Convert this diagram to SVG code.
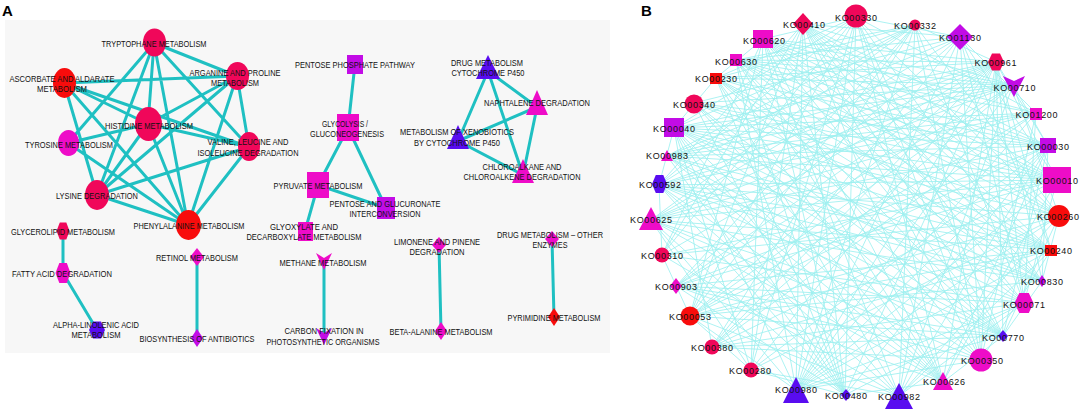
<svg xmlns="http://www.w3.org/2000/svg" width="1084" height="418" viewBox="0 0 1084 418">
<style>
.ea{stroke:#1fc0c2;stroke-width:3;fill:none;stroke-linecap:round}
.eb{stroke:#9ef0f0;stroke-width:1;fill:none;opacity:0.85}
.cr{fill:#f0075a}
.rd{fill:#f80c0c}
.mg{fill:#ee0cc8}
.pu{fill:#c20ce6}
.bv{fill:#590cf0}
.la{font-family:"Liberation Sans",Arial,sans-serif;font-size:9px;fill:#111;text-anchor:middle}
.lb{font-family:"Liberation Sans",Arial,sans-serif;font-size:9px;fill:#111;text-anchor:middle}
.pl{font-family:"Liberation Sans",Arial,sans-serif;font-size:15px;font-weight:bold;fill:#000}
</style>
<rect width="1084" height="418" fill="#fff"/>
<rect x="5" y="20" width="605" height="333" fill="#f7f7f7"/>
<text class="pl" x="2" y="16">A</text>
<text class="pl" x="641" y="16">B</text>

<g id="connectors-a">
<path class="ea" d="M154 43L237 76M64 83L237 76M154 43L249 147M154 43L148 124M154 43L97 195M154 43L68 143M154 43L188 225M64 83L148 124M64 83L249 147M64 83L97 195M64 83L188 225M237 76L148 124M237 76L249 147M237 76L97 195M237 76L188 225M148 124L68 143M148 124L249 147M148 124L97 195M148 124L188 225M68 143L188 225M249 147L97 195M249 147L188 225M97 195L188 225"/>
<path class="ea" d="M63 231L63 273M63 273L97 330M197 257L197 338M355 64L348 128M348 128L318 185M348 128L386 208M318 185L386 208M318 185L305 231M324 261L324 335M439 245L441 331M552 239L554 317"/>
<path class="ea" d="M488 71L537 107M488 71L458 141M488 71L523 175M537 107L458 141M537 107L523 175M458 141L523 175"/>
</g>

<g id="connectors-b">
<path class="eb" d="M856 17L1036 113M856 17L1059 216M856 17L1042 281M856 17L1003 336M856 17L981 360M856 17L943 382M856 17L845 395M856 17L796 390M856 17L751 370M856 17L690 316M856 17L662 255M856 17L659 185M856 17L674 128M856 17L716 78"/>
<path class="eb" d="M960 37L1036 113M960 37L1057 180M960 37L1051 250M960 37L1024 303M960 37L981 360M960 37L899 396M960 37L796 390M960 37L712 347M960 37L676 286M960 37L651 220M960 37L667 156M960 37L694 103M960 37L736 60M960 37L803 24"/>
<path class="eb" d="M1057 180L996 62M1057 180L1024 303M1057 180L943 382M1057 180L796 390M1057 180L712 347M1057 180L676 286M1057 180L662 255M1057 180L651 220M1057 180L659 185M1057 180L667 156M1057 180L674 128M1057 180L694 103M1057 180L716 78M1057 180L736 60M1057 180L763 39M1057 180L803 24"/>
<path class="eb" d="M1059 216L915 25M1059 216L1013 85M1059 216L1003 336M1059 216L899 396M1059 216L751 370M1059 216L690 316M1059 216L662 255M1059 216L659 185M1059 216L694 103M1059 216L736 60M1059 216L803 24"/>
<path class="eb" d="M981 360L915 25M981 360L996 62M981 360L1036 113M981 360L1051 250M981 360L796 390M981 360L712 347M981 360L676 286M981 360L651 220M981 360L667 156M981 360L694 103M981 360L736 60M981 360L803 24"/>
<path class="eb" d="M899 396L915 25M899 396L1013 85M899 396L1048 146M899 396L1051 250M899 396L1024 303M899 396L751 370M899 396L690 316M899 396L662 255M899 396L659 185M899 396L674 128M899 396L716 78M899 396L763 39"/>
<path class="eb" d="M796 390L915 25M796 390L996 62M796 390L1013 85M796 390L1036 113M796 390L1048 146M796 390L1059 216M796 390L1051 250M796 390L1024 303M796 390L1003 336M796 390L690 316M796 390L651 220M796 390L674 128M796 390L736 60M796 390L803 24"/>
<path class="eb" d="M674 128L915 25M674 128L996 62M674 128L1013 85M674 128L1036 113M674 128L1048 146M674 128L1059 216M674 128L1051 250M674 128L1042 281M674 128L1024 303M674 128L1003 336M674 128L943 382M674 128L845 395M674 128L751 370M674 128L712 347"/>
<path class="eb" d="M763 39L996 62M763 39L1013 85M763 39L1036 113M763 39L1048 146M763 39L1059 216M763 39L1051 250M763 39L1042 281M763 39L1024 303M763 39L1003 336M763 39L943 382M763 39L845 395M763 39L751 370M763 39L690 316M763 39L662 255"/>
<path class="eb" d="M803 24L1013 85M803 24L1048 146M803 24L1051 250M803 24L1042 281M803 24L1024 303M803 24L1003 336M803 24L943 382M803 24L845 395M803 24L751 370M803 24L690 316M803 24L662 255M803 24L659 185"/>
<path class="eb" d="M651 220L915 25M651 220L996 62M651 220L1013 85M651 220L1036 113M651 220L1048 146M651 220L1051 250M651 220L1042 281M651 220L1003 336M651 220L943 382M651 220L845 395M651 220L751 370"/>
<path class="eb" d="M690 316L915 25M690 316L996 62M690 316L1013 85M690 316L1036 113M690 316L1048 146M690 316L1051 250M690 316L1042 281M690 316L1003 336"/>
<path class="eb" d="M1024 303L915 25M1024 303L996 62M1024 303L1036 113M1024 303L845 395M1024 303L712 347M1024 303L676 286M1024 303L662 255M1024 303L659 185M1024 303L716 78"/>
<path class="eb" d="M996 62L1048 146M996 62L1051 250M996 62L1042 281M996 62L1003 336M996 62L943 382M996 62L845 395M996 62L751 370M996 62L712 347M996 62L676 286M996 62L662 255M996 62L659 185M996 62L667 156M996 62L716 78M996 62L736 60"/>
<path class="eb" d="M1048 146L1042 281M1048 146L1003 336M1048 146L943 382M1048 146L845 395M1048 146L751 370M1048 146L676 286M1048 146L667 156M1048 146L694 103M1048 146L716 78M1048 146L736 60"/>
<path class="eb" d="M694 103L1013 85M694 103L1051 250M694 103L1003 336M694 103L943 382M694 103L845 395M676 286L915 25M676 286L1013 85M676 286L1051 250M676 286L1003 336M676 286L943 382M676 286L845 395M712 347L915 25M712 347L1013 85M712 347L1036 113M712 347L1051 250M712 347L1003 336"/>
<path class="eb" d="M667 156L915 25M667 156L1013 85M667 156L1036 113M667 156L1051 250M667 156L1042 281M667 156L1003 336M667 156L943 382M667 156L845 395M716 78L915 25M716 78L1013 85M716 78L1051 250M716 78L1042 281M716 78L1003 336M716 78L943 382M716 78L845 395"/>
<path class="eb" d="M659 185L915 25M659 185L1013 85M659 185L1036 113M659 185L1051 250M659 185L1042 281M659 185L1003 336M659 185L943 382M659 185L845 395M736 60L915 25M736 60L1013 85M736 60L1036 113M736 60L1051 250M736 60L1042 281M736 60L1003 336M736 60L943 382M736 60L845 395"/>
<path class="eb" d="M856 17L960 37M915 25L996 62M1013 85L1048 146M1059 216L1042 281M1042 281L1003 336M1003 336L943 382M943 382L845 395M845 395L751 370M751 370L690 316M690 316L662 255M662 255L659 185M659 185L674 128M674 128L716 78M716 78L763 39M763 39L856 17"/>
</g>

<!-- Panel A nodes -->
<g id="a-tryptophane"><ellipse class="cr" cx="154.5" cy="42.5" rx="11.5" ry="14"/><text class="la" x="154" y="46.5" textLength="105" lengthAdjust="spacingAndGlyphs">TRYPTOPHANE METABOLISM</text></g>
<g id="a-ascorbate"><ellipse class="rd" cx="64.5" cy="83" rx="11.5" ry="15"/><text class="la" x="62" y="81.5" textLength="105" lengthAdjust="spacingAndGlyphs">ASCORBATE AND ALDARATE</text><text class="la" x="62" y="91.5" textLength="50" lengthAdjust="spacingAndGlyphs">METABOLISM</text></g>
<g id="a-arganine"><ellipse class="cr" cx="237.5" cy="76" rx="11.5" ry="14"/><text class="la" x="235" y="75.5" textLength="91" lengthAdjust="spacingAndGlyphs">ARGANINE AND PROLINE</text><text class="la" x="235" y="85.5" textLength="48" lengthAdjust="spacingAndGlyphs">METABOLISM</text></g>
<g id="a-histidine"><ellipse class="cr" cx="148.5" cy="124" rx="13.5" ry="17"/><text class="la" x="149" y="128.5" textLength="88" lengthAdjust="spacingAndGlyphs">HISTIDINE METABOLISM</text></g>
<g id="a-tyrosine"><ellipse class="mg" cx="68.5" cy="143" rx="10.5" ry="13"/><text class="la" x="69" y="147.5" textLength="88" lengthAdjust="spacingAndGlyphs">TYROSINE METABOLISM</text></g>
<g id="a-valine"><ellipse class="cr" cx="249" cy="146.5" rx="11" ry="14.5"/><text class="la" x="248" y="144.5" textLength="81" lengthAdjust="spacingAndGlyphs">VALINE, LEUCINE AND</text><text class="la" x="248" y="155.5" textLength="101" lengthAdjust="spacingAndGlyphs">ISOLEUCINE DEGRADATION</text></g>
<g id="a-lysine"><ellipse class="cr" cx="97" cy="195" rx="12" ry="15"/><text class="la" x="97" y="198.5" textLength="82" lengthAdjust="spacingAndGlyphs">LYSINE DEGRADATION</text></g>
<g id="a-phenylalanine"><ellipse class="rd" cx="188.5" cy="225" rx="12.5" ry="15"/><text class="la" x="189" y="228.5" textLength="111" lengthAdjust="spacingAndGlyphs">PHENYLALANINE METABOLISM</text></g>
<g id="a-glycerolipid"><polygon class="cr" points="56.5,231 59.8,222.5 66.3,222.5 69.5,231 66.3,239.5 59.8,239.5"/><text class="la" x="63" y="234.5" textLength="104" lengthAdjust="spacingAndGlyphs">GLYCEROLIPID METABOLISM</text></g>
<g id="a-fattyacid"><polygon class="mg" points="55.5,273 59.3,263 66.8,263 70.5,273 66.8,283 59.3,283"/><text class="la" x="62" y="276.5" textLength="100" lengthAdjust="spacingAndGlyphs">FATTY ACID DEGRADATION</text></g>
<g id="a-alphalinolenic"><polygon class="bv" points="89,330 93,321.5 101,321.5 105,330 101,338.5 93,338.5"/><text class="la" x="96" y="327.5" textLength="86" lengthAdjust="spacingAndGlyphs">ALPHA-LINOLENIC ACID</text><text class="la" x="96" y="337.5" textLength="49" lengthAdjust="spacingAndGlyphs">METABOLISM</text></g>
<g id="a-retinol"><polygon class="mg" points="197,248 204,257 197,266 190,257"/><text class="la" x="197" y="260.5" textLength="82" lengthAdjust="spacingAndGlyphs">RETINOL METABOLISM</text></g>
<g id="a-biosynthesis"><polygon class="pu" points="197,329 203,338 197,347 191,338"/><text class="la" x="197" y="341.5" textLength="115" lengthAdjust="spacingAndGlyphs">BIOSYNTHESIS OF ANTIBIOTICS</text></g>
<g id="a-pentosephosphate"><rect class="pu" x="347" y="55" width="16" height="19"/><text class="la" x="355" y="67.5" textLength="120" lengthAdjust="spacingAndGlyphs">PENTOSE PHOSPHATE PATHWAY</text></g>
<g id="a-glycolysis"><rect class="mg" x="337" y="114" width="22" height="27"/><text class="la" x="345" y="126.5" textLength="46" lengthAdjust="spacingAndGlyphs">GLYCOLYSIS /</text><text class="la" x="347" y="136.5" textLength="74" lengthAdjust="spacingAndGlyphs">GLUCONEOGENESIS</text></g>
<g id="a-pyruvate"><rect class="mg" x="307" y="172" width="22" height="26"/><text class="la" x="318" y="188.5" textLength="89" lengthAdjust="spacingAndGlyphs">PYRUVATE METABOLISM</text></g>
<g id="a-pentoseglucuronate"><rect class="pu" x="377" y="197" width="18" height="22"/><text class="la" x="385" y="206.5" textLength="111" lengthAdjust="spacingAndGlyphs">PENTOSE AND GLUCURONATE</text><text class="la" x="385" y="216.5" textLength="71" lengthAdjust="spacingAndGlyphs">INTERCONVERSION</text></g>
<g id="a-glyoxylate"><rect class="mg" x="298" y="222" width="15" height="19"/><text class="la" x="304" y="229.5" textLength="68" lengthAdjust="spacingAndGlyphs">GLYOXYLATE AND</text><text class="la" x="304" y="239.5" textLength="115" lengthAdjust="spacingAndGlyphs">DECARBOXYLATE METABOLISM</text></g>
<g id="a-methane"><polygon class="mg" points="316,253 324,258 332,253 324,270"/><text class="la" x="323" y="265.5" textLength="87" lengthAdjust="spacingAndGlyphs">METHANE METABOLISM</text></g>
<g id="a-carbonfixation"><polygon class="pu" points="316,328 324,333 332,328 324,345"/><text class="la" x="324" y="334" textLength="79" lengthAdjust="spacingAndGlyphs">CARBON FIXATION IN</text><text class="la" x="323" y="344.5" textLength="113" lengthAdjust="spacingAndGlyphs">PHOTOSYNTHETIC ORGANISMS</text></g>
<g id="a-limonene"><polygon class="mg" points="439,237 446,245 439,253 432,245"/><text class="la" x="437" y="244.5" textLength="86" lengthAdjust="spacingAndGlyphs">LIMONENE AND PINENE</text><text class="la" x="437" y="254.5" textLength="55" lengthAdjust="spacingAndGlyphs">DEGRADATION</text></g>
<g id="a-betaalanine"><polygon class="mg" points="441,322 447,331 441,340 435,331"/><text class="la" x="441" y="334.5" textLength="103" lengthAdjust="spacingAndGlyphs">BETA-ALANINE METABOLISM</text></g>
<g id="a-drugother"><polygon class="mg" points="552,231 559,239 552,247 545,239"/><text class="la" x="550" y="237.5" textLength="106" lengthAdjust="spacingAndGlyphs">DRUG METABOLISM – OTHER</text><text class="la" x="550" y="247.5" textLength="35" lengthAdjust="spacingAndGlyphs">ENZYMES</text></g>
<g id="a-pyrimidine"><polygon class="rd" points="554,308 560,317 554,326 548,317"/><text class="la" x="554" y="320.5" textLength="93" lengthAdjust="spacingAndGlyphs">PYRIMIDINE METABOLISM</text></g>
<g id="a-drugcyto"><polygon class="bv" points="488,55 500,79 476,79"/><text class="la" x="487" y="65.5" textLength="72" lengthAdjust="spacingAndGlyphs">DRUG METABOLISM</text><text class="la" x="488" y="75.5" textLength="73" lengthAdjust="spacingAndGlyphs">CYTOCHROME P450</text></g>
<g id="a-naphtalene"><polygon class="mg" points="537,90 548,115 526,115"/><text class="la" x="537" y="105.5" textLength="106" lengthAdjust="spacingAndGlyphs">NAPHTALENE DEGRADATION</text></g>
<g id="a-xenobiotics"><polygon class="bv" points="458,125 469,149 447,149"/><text class="la" x="457" y="134.5" textLength="114" lengthAdjust="spacingAndGlyphs">METABOLISM OF XENOBIOTICS</text><text class="la" x="457" y="145.5" textLength="86" lengthAdjust="spacingAndGlyphs">BY CYTOCHROME P450</text></g>
<g id="a-chloroalkane"><polygon class="mg" points="523,159 534,183 512,183"/><text class="la" x="522" y="169.5" textLength="79" lengthAdjust="spacingAndGlyphs">CHLOROALKANE AND</text><text class="la" x="522" y="179.5" textLength="117" lengthAdjust="spacingAndGlyphs">CHLOROALKENE DEGRADATION</text></g>

<!-- Panel B nodes -->
<g id="KO00330"><circle class="cr" cx="856" cy="16" r="11.5"/><text class="lb" x="856" y="20.5" textLength="42">KO00330</text></g>
<g id="KO00332"><circle class="cr" cx="915" cy="25" r="5.5"/><text class="lb" x="915" y="28.5" textLength="42">KO00332</text></g>
<g id="KO01130"><polygon class="pu" points="960,24 973,37 960,50 947,37"/><text class="lb" x="960" y="40.5" textLength="42">KO01130</text></g>
<g id="KO00961"><polygon class="cr" points="988,62 992,53.5 1000,53.5 1004,62 1000,70.5 992,70.5"/><text class="lb" x="995.5" y="65.5" textLength="42">KO00961</text></g>
<g id="KO00710"><polygon class="pu" points="1003,76 1014,81 1025,76 1014,97"/><text class="lb" x="1014.5" y="90.5" textLength="42">KO00710</text></g>
<g id="KO01200"><rect class="mg" x="1030" y="108" width="12" height="12"/><text class="lb" x="1036.5" y="117.5" textLength="42">KO01200</text></g>
<g id="KO00030"><rect class="pu" x="1040" y="138" width="16" height="15"/><text class="lb" x="1048" y="149.5" textLength="42">KO00030</text></g>
<g id="KO00010"><rect class="mg" x="1043" y="167" width="28" height="26"/><text class="lb" x="1057" y="183.5" textLength="42">KO00010</text></g>
<g id="KO00260"><circle class="rd" cx="1059" cy="216" r="11"/><text class="lb" x="1058" y="219.5" textLength="42">KO00260</text></g>
<g id="KO00240"><rect class="rd" x="1045" y="245" width="12" height="11"/><text class="lb" x="1051" y="253.5" textLength="42">KO00240</text></g>
<g id="KO00830"><polygon class="pu" points="1042,275 1046,281 1042,287 1038,281"/><text class="lb" x="1042" y="284.5" textLength="42">KO00830</text></g>
<g id="KO00071"><polygon class="mg" points="1014.5,303 1019.3,293 1028.8,293 1033.5,303 1028.8,313 1019.3,313"/><text class="lb" x="1024" y="307.5" textLength="42">KO00071</text></g>
<g id="KO00770"><polygon class="bv" points="1003,330 1008,336 1003,342 998,336"/><text class="lb" x="1003" y="340.5" textLength="42">KO00770</text></g>
<g id="KO00350"><circle class="mg" cx="981" cy="360" r="11.5"/><text class="lb" x="982" y="363.5" textLength="42">KO00350</text></g>
<g id="KO00626"><polygon class="mg" points="943,372 953,390 933,390"/><text class="lb" x="944" y="384.5" textLength="42">KO00626</text></g>
<g id="KO00982"><polygon class="bv" points="899,383 913,409 885,409"/><text class="lb" x="899" y="399.5" textLength="42">KO00982</text></g>
<g id="KO00480"><polygon class="bv" points="846,389 851,395 846,401 841,395"/><text class="lb" x="846" y="398.5" textLength="42">KO00480</text></g>
<g id="KO00980"><polygon class="bv" points="796,377 809,403 783,403"/><text class="lb" x="796" y="392.5" textLength="42">KO00980</text></g>
<g id="KO00280"><circle class="cr" cx="751" cy="370" r="7.5"/><text class="lb" x="750" y="373.5" textLength="42">KO00280</text></g>
<g id="KO00380"><circle class="cr" cx="712" cy="347" r="7.5"/><text class="lb" x="712" y="350.5" textLength="42">KO00380</text></g>
<g id="KO00053"><circle class="rd" cx="690" cy="316" r="9.5"/><text class="lb" x="690" y="319.5" textLength="42">KO00053</text></g>
<g id="KO00903"><polygon class="mg" points="676,278 682,286 676,294 670,286"/><text class="lb" x="676" y="289.5" textLength="42">KO00903</text></g>
<g id="KO00310"><circle class="cr" cx="662" cy="255" r="7.5"/><text class="lb" x="662" y="258.5" textLength="42">KO00310</text></g>
<g id="KO00625"><polygon class="mg" points="651,207 663,230 639,230"/><text class="lb" x="651" y="222.5" textLength="42">KO00625</text></g>
<g id="KO00592"><polygon class="bv" points="652,184 655.8,175 663.3,175 667,184 663.3,193 655.8,193"/><text class="lb" x="660" y="187.5" textLength="42">KO00592</text></g>
<g id="KO00983"><polygon class="mg" points="667,150 673,161 661,161"/><text class="lb" x="667" y="158.5" textLength="42">KO00983</text></g>
<g id="KO00040"><rect class="pu" x="664" y="118" width="20" height="19"/><text class="lb" x="674" y="131.5" textLength="42">KO00040</text></g>
<g id="KO00340"><circle class="cr" cx="694" cy="104" r="9.5"/><text class="lb" x="694" y="107.5" textLength="42">KO00340</text></g>
<g id="KO00230"><rect class="rd" x="710" y="73" width="12" height="11"/><text class="lb" x="716" y="81.5" textLength="42">KO00230</text></g>
<g id="KO00630"><rect class="mg" x="730" y="54" width="12" height="12"/><text class="lb" x="736" y="64.5" textLength="42">KO00630</text></g>
<g id="KO00620"><rect class="mg" x="753" y="30" width="20" height="18"/><text class="lb" x="764" y="43.5" textLength="42">KO00620</text></g>
<g id="KO00410"><polygon class="cr" points="803,13 813,24 803,35 793,24"/><text class="lb" x="804" y="27.5" textLength="42">KO00410</text></g>
</svg>
